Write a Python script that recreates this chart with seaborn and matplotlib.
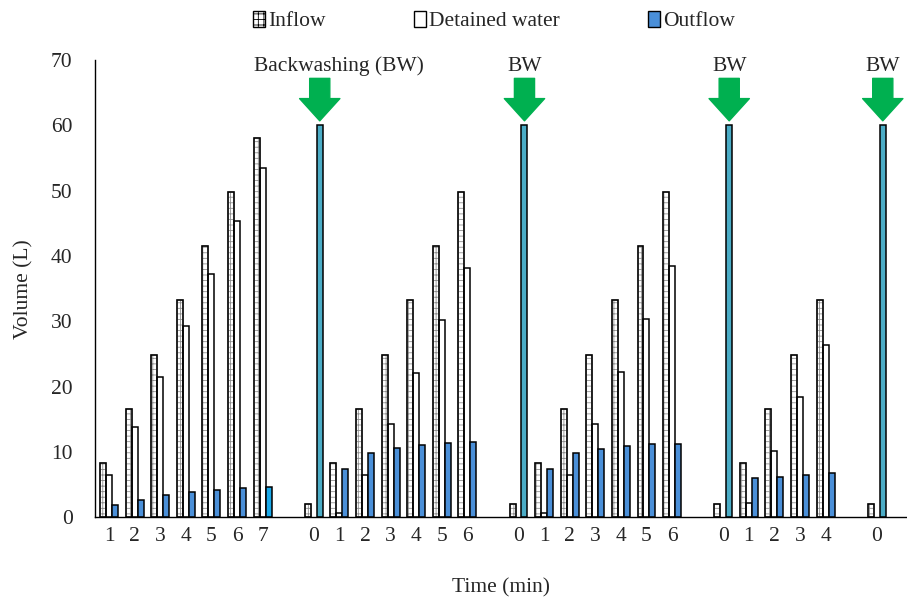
import pandas as pd
import matplotlib
matplotlib.use("Agg")
import matplotlib.pyplot as plt
import seaborn as sns
from matplotlib.patches import Patch, Rectangle

# time labels of each filtration cycle (cycles are separated by a backwash)
cycle_times = [
    [1, 2, 3, 4, 5, 6, 7],
    [0, 1, 2, 3, 4, 5, 6],
    [0, 1, 2, 3, 4, 5, 6],
    [0, 1, 2, 3, 4],
    [0],
]

inflow = [
    [8.3, 16.6, 24.9, 33.2, 41.5, 49.8, 58.1],
    [2.0, 8.3, 16.6, 24.9, 33.2, 41.5, 49.8],
    [2.0, 8.3, 16.6, 24.9, 33.2, 41.5, 49.8],
    [2.0, 8.3, 16.6, 24.9, 33.2],
    [2.0],
]

detained = [
    [6.4, 13.8, 21.5, 29.3, 37.2, 45.3, 53.5],
    [0, 0.7, 6.5, 14.3, 22.1, 30.2, 38.2],
    [0, 0.7, 6.5, 14.3, 22.2, 30.4, 38.5],
    [0, 2.1, 10.2, 18.4, 26.4],
    [0],
]

outflow = [
    [1.8, 2.7, 3.4, 3.8, 4.2, 4.4, 4.6],
    [60, 7.4, 9.9, 10.6, 11.0, 11.3, 11.5],
    [60, 7.4, 9.9, 10.5, 10.9, 11.2, 11.2],
    [60, 6.0, 6.2, 6.5, 6.7],
    [60],
]

bw_labels = ["Backwashing (BW)", "BW", "BW", "BW"]

series = ["Inflow", "Detained water", "Outflow"]

# long table, one empty category between cycles
rows = []
order = []
tick_text = []
for c, times in enumerate(cycle_times):
    if c > 0:
        order.append(f"gap{c}")
        tick_text.append("")
    for i, t in enumerate(times):
        key = f"c{c}_t{t}"
        order.append(key)
        tick_text.append(str(t))
        for name, vals in zip(series, [inflow, detained, outflow]):
            if vals[c][i] > 0:
                rows.append({"slot": key, "series": name, "volume": vals[c][i]})
df = pd.DataFrame(rows)

sns.set_style("white")
plt.rcParams["font.family"] = ["Liberation Serif", "DejaVu Serif"]
plt.rcParams["hatch.linewidth"] = 0.6

blue = "#4a8fd8"
teal = "#4bacc6"
bright = "#1aa9ea"
green = "#00b050"
fs = 15.5

fig = plt.figure(figsize=(9.07, 6.07), dpi=100)
ax = fig.add_axes([0.1047, 0.148, 0.8953, 0.753])

sns.barplot(data=df, x="slot", y="volume", hue="series", order=order,
            hue_order=series, palette=["white", "white", blue], width=0.7,
            saturation=1, edgecolor="black", linewidth=1.1, errorbar=None,
            legend=False, ax=ax)

# inflow: grey grid inside a black outline
for bar in ax.containers[0]:
    bar.set_edgecolor("#8f8f8f")
    bar.set_hatch("+++")
    ax.add_patch(Rectangle(bar.get_xy(), bar.get_width(), bar.get_height(),
                           fill=False, edgecolor="black", lw=1.1, zorder=bar.get_zorder() + 0.1))

# outflow: backwash bars teal, last point of first cycle brighter
bw_x = []
for bar in ax.containers[2]:
    xc = bar.get_x() + bar.get_width() / 2
    if bar.get_height() >= 59:
        bar.set_facecolor(teal)
        bw_x.append(xc)
    elif round(xc) == 6:
        bar.set_facecolor(bright)

for k, x in enumerate(bw_x):
    ax.annotate("", xy=(x, 60.7), xytext=(x, 67.2),
                arrowprops=dict(arrowstyle="simple,head_width=2.9,head_length=1.6,tail_width=1.45",
                                color=green, mutation_scale=10, shrinkA=0, shrinkB=0))
    dx = 0.75 if k == 0 else 0
    ax.text(x + dx, 69.0, bw_labels[k], ha="center", va="center", fontsize=fs)

ax.set_ylim(0, 70)
ax.set_yticks(range(0, 71, 10))
ax.set_xlim(-0.55, 31.18)
ax.set_xticks(range(len(order)))
ax.set_xticklabels(tick_text)
ax.tick_params(length=0, labelsize=fs, pad=7)
ax.tick_params(axis="y", pad=16)
sns.despine(ax=ax)
for s in ["left", "bottom"]:
    ax.spines[s].set_color("black")
    ax.spines[s].set_linewidth(1.0)

ax.set_xlabel("Time (min)", fontsize=fs, labelpad=23)
ax.set_ylabel("Volume (L)", fontsize=fs, labelpad=13)

handles = [
    Patch(facecolor="white", edgecolor="black", hatch="+++", label="Inflow"),
    Patch(facecolor="white", edgecolor="black", label="Detained water"),
    Patch(facecolor=blue, edgecolor="black", label="Outflow"),
]
fig.legend(handles=handles, loc="center", bbox_to_anchor=(0.545, 0.965), ncol=3,
           frameon=False, fontsize=fs, handlelength=0.55, handleheight=0.75,
           handletextpad=0.15, columnspacing=4.1)

fig.savefig("out.png", dpi=100)
